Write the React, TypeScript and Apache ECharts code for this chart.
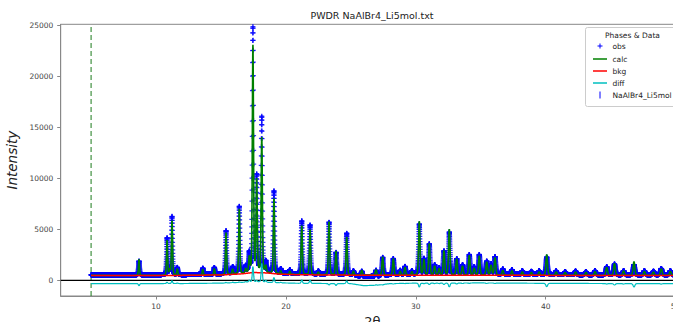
import React, { useEffect, useRef } from "react";
import * as echarts from "echarts";

// ---------- data ----------
const TITLE = "PWDR NaAlBr4_Li5mol.txt";
const X_NAME = "2θ";
const Y_NAME = "Intensity";
const X_TICKS = [10, 20, 30, 40, 50];
const Y_TICKS = [0, 5000, 10000, 15000, 20000, 25000];
const X_MIN = 2.66;
const X_MAX = 50.65;
const Y_MIN = -1540;
const Y_MAX = 25070;
const SCAN_START = 5.0;
const SCAN_END = 50.6;
const SCAN_STEP = 0.005;
const LIMIT_LOW = 5.0;
const DIFF_OFFSET = -380;
const LEGEND_TITLE = "Phases & Data";
const LEGEND_NAMES = ["obs", "calc", "bkg", "diff", "NaAlBr4_Li5mol"];

// background (bkg) anchor points
const bkg2T = [5, 8, 12, 15, 16.5, 17.5, 18.5, 19.5, 21, 25, 30, 35, 40, 45, 51];
const bkgI = [480, 470, 480, 520, 620, 760, 720, 600, 540, 500, 490, 490, 480, 470, 470];

// observed diffuse excess over bkg
const excess2T = [5, 12, 15, 17.5, 19, 21, 25, 26, 27, 28, 30, 35, 40, 45, 51];
const excessI = [60, 60, 100, 220, 150, 80, 50, -150, -100, 50, 100, 120, 80, 60, 60];

// Bragg peaks: position (2θ), observed net height, calculated net height
const peakPos = [
  8.69, 10.85, 11.05, 11.23, 11.64, 13.6, 14.49, 15.39, 15.9, 16.41, 16.9, 17.18, 17.46, 17.75,
  18.14, 18.45, 19.08, 19.6, 20.3, 21.22, 21.86, 22.5, 23.32, 23.86, 24.68, 25.2, 25.84, 26.94,
  27.45, 28.27, 28.8, 29.17, 29.7, 30.27, 30.63, 31.04, 31.45, 31.8, 32.17, 32.58, 33.15, 33.6,
  34.12, 34.5, 34.89, 35.46, 35.8, 36.1, 36.7, 37.4, 38.2, 38.9, 39.5, 40.08, 40.8, 41.5, 42.3,
  43.1, 43.8, 44.7, 45.3, 46.0, 46.8, 47.6, 48.3, 48.9, 49.6, 50.3,
];
const obsPeak = [
  1350, 3600, 600, 5700, 700, 600, 650, 4200, 600, 6450, 500, 1700, 23750, 9200,
  15050, 900, 7950, 400, 350, 5200, 4800, 300, 5100, 2150, 4050, 400, 500, 580,
  1780, 1580, 400, 780, 350, 4900, 1500, 2950, 900, 600, 2250, 4100, 1500, 900,
  1900, 700, 1900, 1250, 1000, 1700, 500, 450, 350, 300, 350, 1700, 350, 300, 350,
  300, 400, 780, 1050, 400, 1000, 400, 350, 620, 400, 400,
];
const calcPeak = [
  1600, 3450, 600, 5400, 650, 600, 650, 4150, 550, 6400, 450, 1500, 22200, 9050,
  13200, 700, 7400, 350, 350, 4850, 4450, 300, 5250, 2350, 3750, 400, 500, 550,
  1830, 1630, 400, 800, 350, 5300, 1550, 3100, 950, 650, 2400, 4500, 1600, 950,
  1950, 700, 1900, 1300, 1000, 1750, 500, 450, 350, 300, 350, 2050, 350, 300, 350,
  300, 400, 830, 1200, 450, 1350, 400, 350, 670, 400, 400,
];

// ---------- helpers ----------
function interp(xs: number[], ys: number[], x: number): number {
  if (x <= xs[0]) return ys[0];
  for (let i = 1; i < xs.length; i++) {
    if (x <= xs[i]) {
      const t = (x - xs[i - 1]) / (xs[i] - xs[i - 1]);
      return ys[i - 1] + t * (ys[i] - ys[i - 1]);
    }
  }
  return ys[ys.length - 1];
}
function fwhm(tt: number) {
  return 0.08 + 0.0016 * tt;
}
function profile(x: number, pos: number, h: number) {
  const w = fwhm(pos);
  const d = x - pos;
  if (Math.abs(d) > 15 * w) return 0;
  const q = (d * d) / (w * w);
  const g = Math.exp(-4 * Math.LN2 * q);
  const l = 1 / (1 + 4 * q);
  return h * (0.75 * g + 0.25 * l);
}

function buildPattern() {
  const obs: number[][] = [];
  const calc: number[][] = [];
  const bkg: number[][] = [];
  const diff: number[][] = [];
  const n = Math.round((SCAN_END - SCAN_START) / SCAN_STEP);
  for (let i = 0; i <= n; i++) {
    const x = +(SCAN_START + i * SCAN_STEP).toFixed(4);
    const b = interp(bkg2T, bkgI, x);
    let o = b + interp(excess2T, excessI, x);
    let c = b;
    for (let k = 0; k < peakPos.length; k++) {
      o += profile(x, peakPos[k], obsPeak[k]);
      c += profile(x, peakPos[k], calcPeak[k]);
    }
    obs.push([x, o]);
    calc.push([x, c]);
    bkg.push([x, b]);
    diff.push([x, o - c + DIFF_OFFSET]);
  }
  return { obs, calc, bkg, diff };
}

const FONT = "DejaVu Sans";
const C_OBS = "#0000ff";
const C_CALC = "#008000";
const C_BKG = "#ff0000";
const C_DIFF = "#00bfbf";
const C_REF = "#0000ff";

export default function App() {
  const ref = useRef<HTMLDivElement>(null);
  useEffect(() => {
    if (!ref.current) return;
    const chart = echarts.init(ref.current, undefined, { renderer: "svg" });
    const { obs, calc, bkg, diff } = buildPattern();

    const lx = 593;
    const legendY = [46, 59, 71, 83, 95];
    const legendGraphic: any[] = [
      {
        type: "rect",
        z: 50,
        shape: { x: 585.5, y: 27.5, width: 130, height: 79, r: 2 },
        style: { fill: "rgba(255,255,255,0.85)", stroke: "#cccccc", lineWidth: 1 },
      },
      {
        type: "text",
        z: 51,
        x: 632.5,
        y: 35,
        style: {
          text: LEGEND_TITLE,
          fill: "#222",
          font: `7.5px "${FONT}"`,
          textAlign: "center",
          textVerticalAlign: "middle",
        },
      },
      { type: "line", z: 51, shape: { x1: lx + 4.5, y1: legendY[0], x2: lx + 9.5, y2: legendY[0] }, style: { stroke: C_OBS, lineWidth: 1 } },
      { type: "line", z: 51, shape: { x1: lx + 7, y1: legendY[0] - 2.5, x2: lx + 7, y2: legendY[0] + 2.5 }, style: { stroke: C_OBS, lineWidth: 1 } },
      { type: "line", z: 51, shape: { x1: lx, y1: legendY[1], x2: lx + 14, y2: legendY[1] }, style: { stroke: C_CALC, lineWidth: 1.5 } },
      { type: "line", z: 51, shape: { x1: lx, y1: legendY[2], x2: lx + 14, y2: legendY[2] }, style: { stroke: C_BKG, lineWidth: 1.5 } },
      { type: "line", z: 51, shape: { x1: lx, y1: legendY[3], x2: lx + 14, y2: legendY[3] }, style: { stroke: C_DIFF, lineWidth: 1.5 } },
      { type: "line", z: 51, shape: { x1: lx + 7, y1: legendY[4] - 3.5, x2: lx + 7, y2: legendY[4] + 3.5 }, style: { stroke: C_REF, lineWidth: 1 } },
    ];
    LEGEND_NAMES.forEach((name, i) => {
      legendGraphic.push({
        type: "text",
        z: 51,
        x: 612.5,
        y: legendY[i],
        style: {
          text: name,
          fill: "#222",
          font: `7.5px "${FONT}"`,
          textAlign: "left",
          textVerticalAlign: "middle",
        },
      });
    });

    chart.setOption({
      animation: false,
      backgroundColor: "#ffffff",
      title: {
        text: TITLE,
        left: "center",
        top: 9.5,
        padding: 0,
        textStyle: { fontFamily: FONT, fontSize: 9.5, fontWeight: "normal", color: "#222", lineHeight: 12 },
      },
      grid: {
        left: 60.7,
        right: 60,
        top: 24.3,
        bottom: 26,
        containLabel: false,
        outerBoundsMode: "none",
        show: true,
        borderColor: "#888",
        borderWidth: 1,
        backgroundColor: "transparent",
      },
      xAxis: {
        type: "value",
        min: X_MIN,
        max: X_MAX,
        name: X_NAME,
        nameLocation: "middle",
        nameGap: 12.5,
        nameTextStyle: { fontFamily: FONT, fontSize: 13, color: "#222" },
        axisLine: { show: true, onZero: false, lineStyle: { color: "#888", width: 1 } },
        axisTick: { show: true, length: 3.5, customValues: X_TICKS, lineStyle: { color: "#888" } },
        axisLabel: {
          customValues: X_TICKS,
          margin: 6,
          fontFamily: FONT,
          fontSize: 7.5,
          color: "#444",
          formatter: (v: number) => String(v),
        },
        splitLine: { show: false },
      },
      yAxis: {
        type: "value",
        min: Y_MIN,
        max: Y_MAX,
        name: Y_NAME,
        nameLocation: "middle",
        nameGap: 35,
        nameTextStyle: { fontFamily: FONT, fontSize: 13.5, fontStyle: "italic", color: "#222" },
        axisLine: { show: true, onZero: false, lineStyle: { color: "#888", width: 1 } },
        axisTick: { show: true, length: 3.5, customValues: Y_TICKS, lineStyle: { color: "#888" } },
        axisLabel: {
          customValues: Y_TICKS,
          margin: 7.4,
          fontFamily: FONT,
          fontSize: 7.5,
          color: "#444",
          formatter: (v: number) => String(v),
        },
        splitLine: { show: false },
      },
      series: [
        {
          name: "limit",
          type: "line",
          data: [
            [LIMIT_LOW, Y_MIN],
            [LIMIT_LOW, Y_MAX],
          ],
          showSymbol: false,
          silent: true,
          z: 1,
          lineStyle: { color: "#1a7a1a", width: 1, type: [5, 3] },
        },
        {
          name: "obs",
          type: "scatter",
          data: obs,
          symbol: "path://M3,0H5V3H8V5H5V8H3V5H0V3H3Z",
          symbolSize: 5,
          progressive: 0,
          silent: true,
          z: 2,
          itemStyle: { color: C_OBS },
        },
        {
          name: "calc",
          type: "line",
          data: calc,
          showSymbol: false,
          silent: true,
          z: 3,
          lineStyle: { color: C_CALC, width: 1.6 },
        },
        {
          name: "bkg",
          type: "line",
          data: bkg,
          showSymbol: false,
          silent: true,
          z: 4,
          lineStyle: { color: C_BKG, width: 1.5 },
        },
        {
          name: "zero",
          type: "line",
          data: [
            [X_MIN, 0],
            [X_MAX, 0],
          ],
          showSymbol: false,
          silent: true,
          z: 4,
          lineStyle: { color: "#000000", width: 1.2 },
        },
        {
          name: "diff",
          type: "line",
          data: diff,
          showSymbol: false,
          silent: true,
          z: 5,
          lineStyle: { color: C_DIFF, width: 1.2 },
        },
        {
          name: "NaAlBr4_Li5mol",
          type: "scatter",
          data: [],
          symbol: "rect",
          itemStyle: { color: C_REF },
        },
      ],
      graphic: legendGraphic,
    });
    return () => chart.dispose();
  }, []);

  return (
    <div
      style={{
        position: "fixed",
        left: 0,
        top: 0,
        width: 673,
        height: 322,
        overflow: "hidden",
        background: "#fff",
      }}
    >
      <div ref={ref} style={{ width: 744, height: 322 }} />
    </div>
  );
}
